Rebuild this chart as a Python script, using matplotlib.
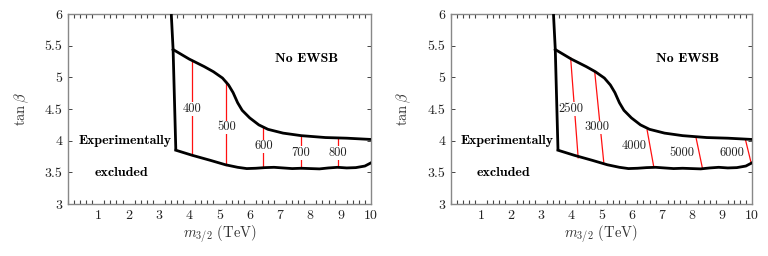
import matplotlib
matplotlib.use("Agg")
import matplotlib.pyplot as plt
from matplotlib.ticker import MultipleLocator

plt.rcParams['font.family'] = ['cmr10', 'DejaVu Serif']
plt.rcParams['mathtext.fontset'] = 'cm'
plt.rcParams['axes.formatter.use_mathtext'] = True

# boundaries (shared by both panels)
wall_x = [3.41, 3.47, 3.56]
wall_y = [6.0, 5.44, 3.85]
upper_x = [3.47, 4.0, 4.5, 4.8, 5.1, 5.3, 5.45, 5.6, 5.75, 6.0, 6.3, 6.6, 7.1, 7.7, 8.5, 9.2, 10.0]
upper_y = [5.44, 5.29, 5.17, 5.09, 4.99, 4.88, 4.76, 4.60, 4.48, 4.36, 4.25, 4.18, 4.12, 4.08, 4.05, 4.04, 4.02]
lower_x = [3.56, 4.1, 4.7, 5.2, 5.6, 5.9, 6.2, 6.5, 6.8, 7.1, 7.4, 7.7, 8.0, 8.3, 8.6, 8.9, 9.2, 9.5, 9.8, 10.0]
lower_y = [3.85, 3.77, 3.69, 3.62, 3.58, 3.56, 3.565, 3.575, 3.58, 3.57, 3.56, 3.565, 3.56, 3.555, 3.57, 3.58, 3.57, 3.575, 3.60, 3.65]

# left panel contours
L_levels = ['400', '500', '600', '700', '800']
L_top_x = [4.1, 5.23, 6.45, 7.68, 8.9]
L_top_y = [5.28, 4.94, 4.21, 4.08, 4.05]
L_bot_x = [4.1, 5.23, 6.45, 7.68, 8.9]
L_bot_y = [3.77, 3.62, 3.58, 3.565, 3.58]
L_lab_x = [4.1, 5.23, 6.45, 7.68, 8.9]
L_lab_y = [4.5, 4.21, 3.91, 3.81, 3.81]

# right panel contours
R_levels = ['2500', '3000', '4000', '5000', '6000']
R_top_x = [3.98, 4.78, 6.52, 8.14, 9.78]
R_top_y = [5.31, 5.09, 4.17, 4.06, 4.03]
R_bot_x = [4.23, 5.08, 6.74, 8.36, 9.98]
R_bot_y = [3.73, 3.66, 3.59, 3.56, 3.64]
R_lab_x = [3.98, 4.86, 6.08, 7.68, 9.34]
R_lab_y = [4.5, 4.21, 3.91, 3.81, 3.81]

fig = plt.figure(figsize=(7.68, 2.56), dpi=100)
axL = fig.add_axes([0.0885, 0.203, 0.3945, 0.742])
axR = fig.add_axes([0.587, 0.203, 0.392, 0.742])

def panel(ax, levels, tx, ty, bx, by, lx, ly):
    ax.set_xlim(0, 10)
    ax.set_ylim(3, 6)
    for t in range(len(levels)):
        ax.plot([tx[t], bx[t]], [ty[t], by[t]], color='#ff1010', lw=0.9, zorder=2)
        ax.text(lx[t], ly[t], levels[t], ha='center', va='center', fontsize=9,
                color='#222222', zorder=3,
                bbox=dict(facecolor='white', edgecolor='none', pad=0.5))
    ax.plot(wall_x, wall_y, color='black', lw=2.0, zorder=4, solid_capstyle='butt')
    ax.plot(upper_x, upper_y, color='black', lw=2.0, zorder=4)
    ax.plot(lower_x, lower_y, color='black', lw=2.0, zorder=4)
    bold = ['cmb10', 'DejaVu Serif']
    ax.text(7.87, 5.29, 'No EWSB', family=bold, fontsize=10, ha='center', va='center')
    ax.text(1.88, 3.99, 'Experimentally', family=bold, fontsize=10, ha='center', va='center')
    ax.text(1.76, 3.49, 'excluded', family=bold, fontsize=10, ha='center', va='center')
    ax.set_xticks([1, 2, 3, 4, 5, 6, 7, 8, 9, 10])
    ax.set_xticklabels(['1', '2', '3', '4', '5', '6', '7', '8', '9', '10'])
    ax.set_yticks([3, 3.5, 4, 4.5, 5, 5.5, 6])
    ax.set_yticklabels(['3', '3.5', '4', '4.5', '5', '5.5', '6'])
    ax.xaxis.set_minor_locator(MultipleLocator(0.2))
    ax.tick_params(which='both', direction='in', top=True, right=True,
                   color='#444444', labelsize=10, labelcolor='#222222', pad=4)
    ax.tick_params(which='major', axis='x', length=0)
    ax.tick_params(which='major', axis='y', length=3, width=0.7)
    ax.tick_params(which='minor', axis='x', length=3, width=0.8)
    ax.tick_params(which='minor', axis='y', length=0)
    for s in ax.spines.values():
        s.set_color('#888888')
        s.set_linewidth(1.0)
    ax.set_xlabel(r'$m_{3/2}$ (TeV)', fontsize=10.5, color='#333333', labelpad=1)
    ax.set_ylabel(r'$\tan\beta$', fontsize=10.5, color='#333333', labelpad=10)

panel(axL, L_levels, L_top_x, L_top_y, L_bot_x, L_bot_y, L_lab_x, L_lab_y)
panel(axR, R_levels, R_top_x, R_top_y, R_bot_x, R_bot_y, R_lab_x, R_lab_y)

fig.savefig('out.png', dpi=100)
